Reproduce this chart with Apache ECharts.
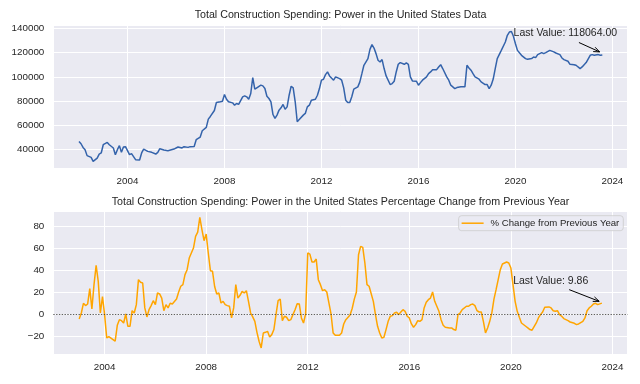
<!DOCTYPE html>
<html><head><meta charset="utf-8">
<script src="https://cdn.jsdelivr.net/npm/echarts@6/dist/echarts.min.js"></script>
<style>html,body{margin:0;padding:0;background:#fff}#c{width:640px;height:384px}</style>
</head><body><div id="c"></div>
<script>
// ---- data ----
const topTitle = 'Total Construction Spending: Power in the United States Data';
const bottomTitle = 'Total Construction Spending: Power in the United States Percentage Change from Previous Year';
const legendLabel = '% Change from Previous Year';
const topLastLabel = 'Last Value: 118064.00';
const pctLastLabel = 'Last Value: 9.86';

const topDates = ['2002-01','2002-02','2002-03','2002-04','2002-05','2002-07','2002-08','2002-10','2002-11','2002-12',
'2003-01','2003-03','2003-04','2003-06','2003-07','2003-08','2003-09','2003-10','2003-11','2003-12',
'2004-02','2004-03','2004-05','2004-07','2004-08','2004-09','2004-11',
'2005-01','2005-03','2005-04','2005-05','2005-07','2005-09','2005-12',
'2006-02','2006-04','2006-05','2006-07','2006-08','2006-10','2006-11',
'2007-01','2007-02','2007-04','2007-05','2007-06','2007-08','2007-09','2007-11','2007-12',
'2008-01','2008-02','2008-03','2008-05','2008-06','2008-07','2008-08','2008-10','2008-11','2008-12',
'2009-01','2009-02','2009-03','2009-04','2009-05','2009-07','2009-08','2009-09','2009-10','2009-11','2009-12',
'2010-01','2010-02','2010-03','2010-04','2010-05','2010-06','2010-07','2010-08','2010-09','2010-10','2010-11','2010-12',
'2011-01','2011-02','2011-04','2011-05','2011-06','2011-07','2011-08','2011-10','2011-11','2011-12',
'2012-01','2012-02','2012-03','2012-04','2012-05','2012-07','2012-08','2012-10','2012-11','2012-12',
'2013-01','2013-02','2013-03','2013-04','2013-05','2013-07','2013-08','2013-09','2013-10','2013-12',
'2014-01','2014-02','2014-03','2014-04','2014-05','2014-06','2014-07','2014-08','2014-09','2014-11','2014-12',
'2015-01','2015-02','2015-03','2015-04','2015-06','2015-07','2015-08','2015-09','2015-10','2015-12',
'2016-01','2016-02','2016-03','2016-05','2016-06','2016-07','2016-08','2016-10','2016-11','2016-12',
'2017-01','2017-03','2017-04','2017-05','2017-07','2017-08','2017-10','2017-12',
'2018-01','2018-02','2018-03','2018-04','2018-05','2018-07','2018-08','2018-10','2018-11','2018-12',
'2019-01','2019-02','2019-03','2019-04','2019-06','2019-08','2019-09','2019-10','2019-11','2019-12',
'2020-01','2020-02','2020-04','2020-06','2020-07','2020-09','2020-10','2020-11','2020-12',
'2021-02','2021-03','2021-04','2021-06','2021-08','2021-09','2021-11','2021-12',
'2022-01','2022-03','2022-04','2022-06','2022-07','2022-08','2022-09','2022-10','2022-11','2022-12',
'2023-02','2023-03','2023-04','2023-06','2023-07','2023-08'];
const topValues = [46800,44900,41900,40000,35100,33700,30400,33100,36400,37300,
44100,46000,44100,41400,35900,40000,43300,37800,42200,42500,
35900,36700,31800,31500,37300,40500,38600,
37800,36400,37800,40800,39700,39200,40500,
42200,41400,42500,41900,42500,42700,48200,
50400,55600,58400,65200,67400,72300,78900,79500,80000,
85500,81600,79500,78600,76700,78100,77300,83600,84400,83600,
81600,86300,99500,89900,91000,93200,92600,90400,84100,82200,79500,
69000,65800,68500,72600,74500,77300,73400,75300,84900,92300,91000,79500,
63000,64900,68500,69900,75300,76700,80800,81600,84900,90400,
97300,98100,101900,104100,100800,97300,100000,98600,97300,91000,
80800,78900,78900,83600,89900,91800,95900,102700,109600,115100,
122700,126600,123800,119200,113700,112300,114300,106900,100800,93700,94500,
96400,104100,110400,111800,110400,111500,110400,100000,96700,96400,
93200,95300,97300,100000,102700,104100,106000,106000,108200,110100,
106900,100000,97300,93200,90400,91200,91800,91800,
109600,107400,105500,102700,100000,98100,95900,93700,93700,90400,
93200,98200,106900,115100,121900,128800,134300,137000,137500,133500,
127400,121900,117800,115100,114500,115100,116400,115900,118400,
120000,119200,120000,121900,120600,119700,118400,115600,
114300,112900,110400,110100,109600,108200,106900,108200,110100,111800,
117800,118400,117800,118400,117800,118064];

const pctDates = ['2003-01','2003-02','2003-03','2003-04','2003-05','2003-06','2003-07','2003-08','2003-09','2003-10','2003-11','2003-12',
'2004-01','2004-02','2004-03','2004-05','2004-06','2004-07','2004-08','2004-09','2004-10','2004-11','2004-12',
'2005-01','2005-02','2005-03','2005-04','2005-05','2005-06','2005-07','2005-08','2005-09','2005-10','2005-11','2005-12',
'2006-01','2006-02','2006-03','2006-04','2006-05','2006-06','2006-07','2006-08','2006-09','2006-11','2006-12',
'2007-01','2007-02','2007-03','2007-04','2007-05','2007-07','2007-08','2007-09','2007-10','2007-11','2007-12',
'2008-01','2008-02','2008-03','2008-04','2008-05','2008-06','2008-07','2008-08','2008-09','2008-10','2008-11','2008-12',
'2009-01','2009-02','2009-03','2009-04','2009-05','2009-06','2009-07','2009-08','2009-09','2009-10','2009-11','2009-12',
'2010-01','2010-02','2010-03','2010-04','2010-05','2010-06','2010-07','2010-08','2010-09','2010-10','2010-11','2010-12',
'2011-01','2011-02','2011-03','2011-04','2011-05','2011-06','2011-07','2011-08','2011-09','2011-10','2011-11','2011-12',
'2012-01','2012-02','2012-03','2012-04','2012-05','2012-06','2012-07','2012-08','2012-09','2012-10','2012-11','2012-12',
'2013-01','2013-02','2013-04','2013-05','2013-06','2013-07','2013-09','2013-10','2013-11','2013-12',
'2014-01','2014-02','2014-03','2014-04','2014-05','2014-06','2014-08','2014-09','2014-10','2014-11','2014-12',
'2015-01','2015-02','2015-03','2015-04','2015-05','2015-06','2015-07','2015-08','2015-09','2015-10','2015-11','2015-12',
'2016-01','2016-02','2016-03','2016-04','2016-05','2016-06','2016-07','2016-08','2016-09','2016-10','2016-11','2016-12',
'2017-01','2017-03','2017-04','2017-05','2017-06','2017-08','2017-09','2017-10','2017-11','2017-12',
'2018-01','2018-02','2018-04','2018-05','2018-06','2018-07','2018-08','2018-09','2018-10','2018-11','2018-12',
'2019-01','2019-02','2019-03','2019-04','2019-05','2019-06','2019-07','2019-08','2019-09','2019-11','2019-12',
'2020-01','2020-02','2020-03','2020-04','2020-05','2020-06','2020-08','2020-09','2020-10','2020-11',
'2021-01','2021-02','2021-03','2021-04','2021-05','2021-07','2021-08','2021-09','2021-10','2021-11','2021-12',
'2022-01','2022-02','2022-04','2022-05','2022-07','2022-08','2022-09','2022-11','2022-12',
'2023-01','2023-02','2023-03','2023-04','2023-05','2023-06','2023-08'];
const pctValues = [-4.5,0.9,9.7,7.6,9.1,23,4.5,26.7,44.2,29.7,0.9,15.8,
-0.6,-21.8,-20.6,-23.3,-24.8,-10.3,-5.2,-6.1,-8.2,0,-11.2,
-11.2,3,0.9,8.5,31.2,28.8,28.2,5.5,-2.7,3.9,7.6,12.1,
8.5,19.1,18.2,14.5,3,8.5,5.5,9.7,9.1,13.6,20,
25.2,26.7,35.8,40.3,50.9,60,70.6,74.5,87.9,76.7,66.7,
72.7,55.5,39.4,38.8,25,18.2,19.1,10,11.5,8.5,7.6,7,
-3.6,5.5,26.7,14.5,17,20.6,19.1,21.2,11.5,0.9,-2.7,-6.7,
-16.7,-24.8,-30.9,-17.3,-16.7,-15.8,-20.9,-18.8,-14.2,-0.6,12.1,13.6,
-6.1,-2.1,-3,-6.1,-5.2,-0.6,3.9,9.4,9.1,-3.6,-8.2,0,
55.5,54.5,47.3,47.3,50,31.2,26.7,21.2,22.1,20,10,0,
-17.3,-19.4,-19.4,-17.3,-9.1,-5.2,-1,5,13.5,20,
53.9,61.5,60.6,46.4,26.7,25.2,11.5,-0.6,-11.2,-17.3,-21.8,
-21.2,-14.2,-6.7,-2.1,-1.5,0.9,1.5,-0.6,1.8,3.9,2.4,-2.1,
-3.6,-9.1,-12.1,-9.7,-6.1,-6.7,-5.2,5.5,10.6,13,14.5,20,
11.5,2.4,-5.2,-10.3,-12.1,-12.7,-12.7,-14.2,-14.8,-0.6,
0.9,3.9,7,7,8.5,9.1,7.6,3,1.8,1.8,-6.7,
-17.3,-12.7,-6.7,1,13.5,22.1,31.2,40.3,45.5,47.3,46.4,
41.8,26.7,11.5,2.4,-3,-8.2,-11.2,-12.7,-14.2,-14.8,
-8.2,-3.6,-0.6,1.8,6.1,6.4,5.5,3,2.4,3,-0.6,
-2.1,-4.2,-6.1,-7.3,-8.5,-9.7,-9.1,-6.7,-3.6,
3,5.5,7,9.1,9.7,8.5,9.86];

// ---- helpers ----
function toYear(s) { const p = s.split('-').map(Number); return p[0] + (p[1] - 1) / 12; }
const topData = topDates.map((d, i) => [toYear(d), topValues[i]]);
const pctData = pctDates.map((d, i) => [toYear(d), pctValues[i]]);

const FONT = "'Liberation Sans', Arial, sans-serif";
const TXT = '#262626';
const BG = '#EAEAF2';

function isMultiple(v, step) { return Math.abs(v / step - Math.round(v / step)) < 1e-6; }

function xAxis(idx, min, max) {
  return {
    type: 'value', gridIndex: idx, min: min, max: max, minInterval: 4, maxInterval: 4,
    axisLine: { show: false }, axisTick: { show: false },
    axisLabel: { color: TXT, fontSize: 9.8, fontFamily: FONT, margin: 8,
      formatter: v => isMultiple(v, 4) ? String(Math.round(v)) : '' },
    splitLine: { show: true, lineStyle: { color: '#ffffff', width: 1 } }
  };
}
function yAxis(idx, min, max, step) {
  return {
    type: 'value', gridIndex: idx, min: min, max: max, minInterval: step, maxInterval: step,
    axisLine: { show: false }, axisTick: { show: false },
    axisLabel: { color: TXT, fontSize: 9.8, fontFamily: FONT, margin: 9,
      formatter: v => isMultiple(v, step) ? String(Math.round(v)).replace('-', '\u2212') : '' },
    splitLine: { show: true, lineStyle: { color: '#ffffff', width: 1 } }
  };
}

const chart = echarts.init(document.getElementById('c'), null, { renderer: 'canvas' });
chart.setOption({
  animation: false,
  backgroundColor: '#ffffff',
  title: [
    { text: topTitle, left: 340.5, top: 10, textAlign: 'center', textVerticalAlign: 'top', padding: 0,
      textStyle: { fontSize: 10.7, fontWeight: 'normal', color: TXT, fontFamily: FONT } },
    { text: bottomTitle, left: 340.5, top: 196.5, textAlign: 'center', textVerticalAlign: 'top', padding: 0,
      textStyle: { fontSize: 10.7, fontWeight: 'normal', color: TXT, fontFamily: FONT } }
  ],
  grid: [
    { left: 53.3, right: 12.3, top: 25, height: 143, show: true, backgroundColor: BG, borderWidth: 0, containLabel: false, outerBoundsMode: 'none' },
    { left: 53.3, right: 12.3, top: 211, height: 143.3, show: true, backgroundColor: BG, borderWidth: 0, containLabel: false, outerBoundsMode: 'none' }
  ],
  xAxis: [ xAxis(0, 2000.94, 2024.63), xAxis(1, 2001.98, 2024.6) ],
  yAxis: [ yAxis(0, 24900, 142800, 20000), yAxis(1, -36.7, 93.7, 20) ],
  legend: {
    data: [legendLabel], right: 16.7, top: 215.7, icon: 'rect', itemWidth: 22, itemHeight: 1.5,
    padding: [2.5, 4, 2.5, 3], backgroundColor: 'rgba(234,234,242,0.8)', borderColor: '#CCCCCC',
    borderWidth: 0.8, borderRadius: 3,
    textStyle: { color: TXT, fontSize: 9.6, fontFamily: FONT, padding: [0, 0, 0, 2] }
  },
  series: [
    { type: 'line', name: 'Data', xAxisIndex: 0, yAxisIndex: 0, data: topData, symbol: 'none', showSymbol: false,
      lineStyle: { color: '#3463AB', width: 1.5 }, itemStyle: { color: '#3463AB' }, z: 3 },
    { type: 'line', name: legendLabel, xAxisIndex: 1, yAxisIndex: 1, data: pctData, symbol: 'none', showSymbol: false,
      lineStyle: { color: '#FFA500', width: 1.5 }, itemStyle: { color: '#FFA500' }, z: 3,
      markLine: { silent: true, symbol: 'none', label: { show: false }, animation: false,
        lineStyle: { color: '#333333', type: [1.4, 1.4], width: 0.8 }, data: [{ yAxis: 0 }] } }
  ]
});

// ---- annotations positioned from the last data point through the library's scales ----
function arrow(start, end, L, W) {
  const dx = end[0] - start[0], dy = end[1] - start[1];
  const len = Math.hypot(dx, dy), ux = dx / len, uy = dy / len, nx = -uy, ny = ux;
  const b = [end[0] - ux * L, end[1] - uy * L];
  const st = { stroke: '#000000', lineWidth: 1, fill: null };
  return [
    { type: 'polyline', silent: true, z: 100, shape: { points: [start, end] }, style: st },
    { type: 'polyline', silent: true, z: 100, shape: { points: [[b[0] + nx * W, b[1] + ny * W], end, [b[0] - nx * W, b[1] - ny * W]] }, style: st }
  ];
}
function label(p, text) {
  return { type: 'text', silent: true, z: 100, x: p[0] - 88.7, y: p[1] - 22,
    style: { text: text, fill: TXT, fontSize: 10.5, fontFamily: FONT, align: 'left', verticalAlign: 'middle' } };
}
const pTop = chart.convertToPixel({ seriesIndex: 0 }, topData[topData.length - 1]);
const pPct = chart.convertToPixel({ seriesIndex: 1 }, pctData[pctData.length - 1]);
const graphics = [label(pTop, topLastLabel), label(pPct, pctLastLabel)]
  .concat(arrow([pTop[0] - 23.4, pTop[1] - 12.5], [pTop[0] - 2.7, pTop[1] - 3.1], 6, 2.4))
  .concat(arrow([pPct[0] - 32.7, pPct[1] - 13.5], [pPct[0] - 2.7, pPct[1] - 1.8], 6, 2.4));
chart.setOption({ graphic: graphics });
</script>
</body></html>
